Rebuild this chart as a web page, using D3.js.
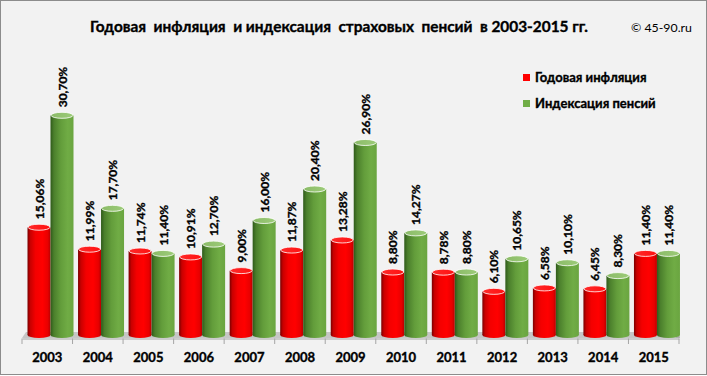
<!DOCTYPE html>
<html>
<head>
<meta charset="utf-8">
<script src="https://cdn.jsdelivr.net/npm/d3@7"></script>
<style>
  body { margin: 0; background: #fff; }
  svg text { font-family: Lato, "Open Sans", sans-serif; }
  svg text.heavy { stroke: #000; stroke-width: 0.35px; }
</style>
</head>
<body>
<svg id="chart" width="707" height="376"></svg>
<script>
// Data
const years = ["2003","2004","2005","2006","2007","2008","2009","2010","2011","2012","2013","2014","2015"];
const inflation = [15.06, 11.99, 11.74, 10.91, 9.00, 11.87, 13.28, 8.80, 8.78, 6.10, 6.58, 6.45, 11.40];
const indexation = [30.70, 17.70, 11.40, 12.70, 16.00, 20.40, 26.90, 14.27, 8.80, 10.65, 10.10, 8.30, 11.40];
const seriesNames = ["Годовая инфляция", "Индексация пенсий"];

const width = 707;
const height = 376;

const svg = d3.select("#chart");

// background + frame
svg.append("rect")
    .attr("x", 0.5).attr("y", 0.5)
    .attr("width", width - 1).attr("height", height - 2)
    .attr("fill", "#f2f2f2")
    .attr("stroke", "#8c8c8c");

// gradients for cylinders
const defs = svg.append("defs");
function hGrad(id, stops) {
    const g = defs.append("linearGradient").attr("id", id)
        .attr("x1", "0%").attr("x2", "100%").attr("y1", "0%").attr("y2", "0%");
    stops.forEach(s => g.append("stop").attr("offset", s[0]).attr("stop-color", s[1]));
}
hGrad("redBody", [["0%", "#7a0000"], ["12%", "#c80000"], ["35%", "#f40000"], ["65%", "#ff0000"], ["88%", "#e80000"], ["100%", "#b80000"]]);
hGrad("greenBody", [["0%", "#2f5a1a"], ["15%", "#4b7f2c"], ["45%", "#639d3b"], ["75%", "#70ac45"], ["100%", "#6aa540"]]);
hGrad("redTop", [["0%", "#ff2a2a"], ["100%", "#ff1010"]]);
hGrad("greenTop", [["0%", "#8bbb68"], ["100%", "#9ccb78"]]);

const bodyFill = ["url(#redBody)", "url(#greenBody)"];
const topFill = ["url(#redTop)", "url(#greenTop)"];
const legendColor = ["#ff0000", "#70ad47"];

// Scales
const x = d3.scaleBand().domain(years).range([22, 679]).padding(0);
const xs = d3.scaleBand().domain([0, 1]).range([5.5, 51.5]).padding(0);
const y = d3.scaleLinear().domain([0, 32]).range([335, 106]);

// floor
const fl = x.range()[0], fr = x.range()[1];
svg.append("path")
    .attr("d", `M${fl},338 L${fl + 4},332 L${fr},332 L${fr},338 Z`)
    .attr("fill", "#c6c6c6");
svg.append("path")
    .attr("d", `M${fr - 4},332 L${fr},332 L${fr + 1},338 L${fr - 3},338 Z`)
    .attr("fill", "#b0b0b0");

// x axis
const xAxis = d3.axisBottom(x).tickSize(0).tickPadding(0).tickFormat(d => d);
const ax = svg.append("g").attr("transform", "translate(0,338.5)").call(xAxis);
ax.select(".domain").attr("stroke", "#a6a6a6");
ax.selectAll(".tick text")
    .attr("class", "heavy")
    .attr("dy", null).attr("y", 23)
    .attr("font-size", 13).attr("font-weight", "bold")
    .attr("font-family", "Lato, sans-serif").attr("fill", "#000");
// boundary ticks
svg.append("g").selectAll("line")
    .data(years.map(d => x(d)).concat([fr]))
    .join("line")
    .attr("x1", d => d).attr("x2", d => d)
    .attr("y1", 338.5).attr("y2", 344)
    .attr("stroke", "#a6a6a6");

// cylinders
const rx = xs.bandwidth() / 2;
const ry = 3;
const flat = [];
years.forEach((yr, i) => {
    flat.push({ year: yr, s: 0, v: inflation[i] });
    flat.push({ year: yr, s: 1, v: indexation[i] });
});

const bars = svg.append("g").selectAll("g").data(flat).join("g")
    .attr("transform", d => `translate(${x(d.year) + xs(d.s)},0)`);

bars.append("ellipse")
    .attr("cx", rx).attr("cy", y(0))
    .attr("rx", rx).attr("ry", ry)
    .attr("fill", d => bodyFill[d.s]);
bars.append("rect")
    .attr("x", 0).attr("y", d => y(d.v))
    .attr("width", xs.bandwidth())
    .attr("height", d => y(0) - y(d.v))
    .attr("fill", d => bodyFill[d.s]);
bars.append("ellipse")
    .attr("cx", rx).attr("cy", d => y(d.v))
    .attr("rx", rx - 0.5).attr("ry", ry)
    .attr("fill", d => topFill[d.s])
    .attr("stroke", "#ffffff").attr("stroke-opacity", 0.8).attr("stroke-width", 1);

// value labels
const fmt = v => v.toFixed(2).replace(".", ",") + "%";
bars.append("text")
    .attr("class", "heavy")
    .attr("transform", d => `translate(${rx + 4.5},${y(d.v) - 8}) rotate(-90)`)
    .attr("font-size", 12).attr("font-weight", "bold")
    .attr("fill", "#000")
    .text(d => fmt(d.v));

// title
svg.append("text")
    .attr("class", "heavy")
    .attr("x", 90).attr("y", 32)
    .attr("font-size", 15).attr("font-weight", "bold")
    .attr("textLength", 498).attr("lengthAdjust", "spacingAndGlyphs")
    .style("white-space", "pre")
    .text("Годовая  инфляция  и индексация  страховых  пенсий  в 2003-2015 гг.");

svg.append("text")
    .attr("x", 631).attr("y", 32)
    .attr("font-size", 12)
    .attr("textLength", 61).attr("lengthAdjust", "spacingAndGlyphs")
    .text("© 45-90.ru");

// legend
const legend = svg.append("g").selectAll("g").data(seriesNames).join("g")
    .attr("transform", (d, i) => `translate(523,${74 + i * 26})`);
legend.append("rect")
    .attr("width", 7).attr("height", 7)
    .attr("fill", (d, i) => legendColor[i]);
legend.append("text")
    .attr("class", "heavy")
    .attr("x", 12).attr("y", 7.5)
    .attr("font-size", 13).attr("font-weight", "bold")
    .text(d => d);
</script>
</body>
</html>
